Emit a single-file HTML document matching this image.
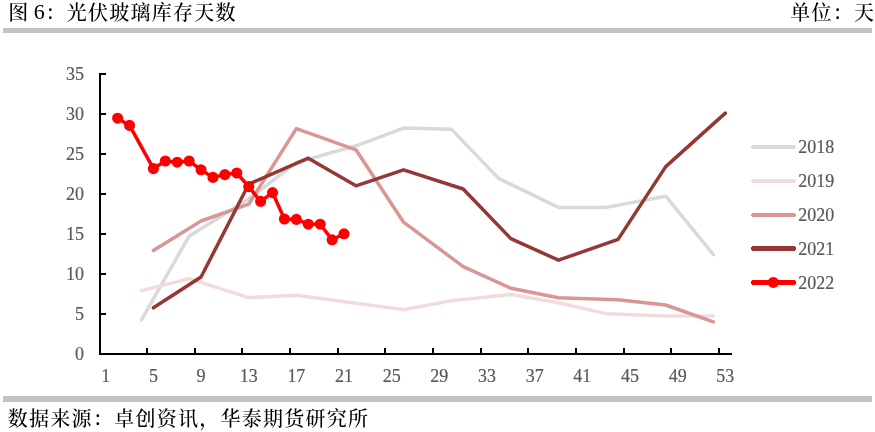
<!DOCTYPE html>
<html lang="zh-CN">
<head>
<meta charset="utf-8">
<title>图 6: 光伏玻璃库存天数</title>
<style>
html,body{margin:0;padding:0;background:#fff;}
body{width:875px;height:432px;position:relative;overflow:hidden;
  font-family:"Liberation Serif","Noto Serif CJK SC",serif;color:#000;}
.bar{position:absolute;left:3px;width:869px;height:5px;background:#c3c3c3;}
.cap{position:absolute;font-size:20px;line-height:24px;white-space:nowrap;letter-spacing:1.27px;word-spacing:-1.6px;font-weight:500;}
svg{position:absolute;left:0;top:0;}
.n{font-size:22px;line-height:0;position:relative;top:-0.6px;margin:0 -0.5px;}
.t{font-family:"Liberation Serif",serif;font-size:18.0px;fill:#595959;stroke:#595959;stroke-width:0.2px;}
</style>
</head>
<body>
<div class="cap" id="title" style="left:8.2px;top:0.8px;">图 <span class="n">6</span>：光伏玻璃库存天数</div>
<div class="cap" id="unit" style="right:-0.3px;top:0.8px;">单位：天</div>
<div class="bar" style="top:28px;"></div>
<svg width="875" height="432" viewBox="0 0 875 432">
<polyline points="141.47,319.80 189.13,236.20 248.71,199.00 296.37,162.60 355.94,145.80 403.60,128.04 451.26,129.16 498.92,178.60 558.50,207.40 606.16,207.40 665.73,196.20 713.39,254.60" fill="none" stroke="#d9d9d9" stroke-width="3.5" stroke-linecap="round" stroke-linejoin="round"/>
<polyline points="141.47,290.60 189.13,278.60 248.71,297.64 296.37,295.24 355.94,303.16 403.60,309.64 451.26,300.84 510.84,294.44 558.50,302.76 606.16,313.64 665.73,316.04 713.39,316.04" fill="none" stroke="#f2dcdb" stroke-width="3.5" stroke-linecap="round" stroke-linejoin="round"/>
<polyline points="153.39,250.60 201.05,221.00 248.71,204.20 296.37,128.60 355.94,149.80 403.60,222.20 463.18,266.60 510.84,288.20 558.50,297.80 618.07,299.80 665.73,305.00 713.39,321.80" fill="none" stroke="#d99694" stroke-width="3.5" stroke-linecap="round" stroke-linejoin="round"/>
<polyline points="153.39,307.80 201.05,277.00 248.71,184.20 308.28,158.20 355.94,185.80 403.60,169.80 463.18,189.00 510.84,238.60 558.50,260.20 618.07,239.40 665.73,166.60 725.31,113.16" fill="none" stroke="#953735" stroke-width="3.5" stroke-linecap="round" stroke-linejoin="round"/>
<polyline points="117.64,118.20 129.56,125.40 153.39,168.60 165.30,161.00 177.22,162.20 189.13,161.00 201.05,169.80 212.96,177.40 224.88,174.60 236.79,173.00 248.71,186.60 260.62,201.40 272.54,192.60 284.45,219.00 296.37,219.40 308.28,224.20 320.20,224.20 332.11,239.80 344.03,233.80" fill="none" stroke="#ff0000" stroke-width="3.5" stroke-linecap="round" stroke-linejoin="round"/>
<circle cx="117.64" cy="118.20" r="5.55" fill="#ff0000"/>
<circle cx="129.56" cy="125.40" r="5.55" fill="#ff0000"/>
<circle cx="153.39" cy="168.60" r="5.55" fill="#ff0000"/>
<circle cx="165.30" cy="161.00" r="5.55" fill="#ff0000"/>
<circle cx="177.22" cy="162.20" r="5.55" fill="#ff0000"/>
<circle cx="189.13" cy="161.00" r="5.55" fill="#ff0000"/>
<circle cx="201.05" cy="169.80" r="5.55" fill="#ff0000"/>
<circle cx="212.96" cy="177.40" r="5.55" fill="#ff0000"/>
<circle cx="224.88" cy="174.60" r="5.55" fill="#ff0000"/>
<circle cx="236.79" cy="173.00" r="5.55" fill="#ff0000"/>
<circle cx="248.71" cy="186.60" r="5.55" fill="#ff0000"/>
<circle cx="260.62" cy="201.40" r="5.55" fill="#ff0000"/>
<circle cx="272.54" cy="192.60" r="5.55" fill="#ff0000"/>
<circle cx="284.45" cy="219.00" r="5.55" fill="#ff0000"/>
<circle cx="296.37" cy="219.40" r="5.55" fill="#ff0000"/>
<circle cx="308.28" cy="224.20" r="5.55" fill="#ff0000"/>
<circle cx="320.20" cy="224.20" r="5.55" fill="#ff0000"/>
<circle cx="332.11" cy="239.80" r="5.55" fill="#ff0000"/>
<circle cx="344.03" cy="233.80" r="5.55" fill="#ff0000"/>
<rect x="99" y="73" width="2" height="282" fill="#000000"/>
<rect x="99" y="353" width="633" height="2" fill="#000000"/>
<rect x="101" y="353" width="5" height="2" fill="#000000"/>
<rect x="101" y="313" width="5" height="2" fill="#000000"/>
<rect x="101" y="273" width="5" height="2" fill="#000000"/>
<rect x="101" y="233" width="5" height="2" fill="#000000"/>
<rect x="101" y="193" width="5" height="2" fill="#000000"/>
<rect x="101" y="153" width="5" height="2" fill="#000000"/>
<rect x="101" y="113" width="5" height="2" fill="#000000"/>
<rect x="101" y="73" width="5" height="2" fill="#000000"/>
<rect x="146" y="348" width="2" height="5" fill="#000000"/>
<rect x="194" y="348" width="2" height="5" fill="#000000"/>
<rect x="241" y="348" width="2" height="5" fill="#000000"/>
<rect x="289" y="348" width="2" height="5" fill="#000000"/>
<rect x="337" y="348" width="2" height="5" fill="#000000"/>
<rect x="384" y="348" width="2" height="5" fill="#000000"/>
<rect x="432" y="348" width="2" height="5" fill="#000000"/>
<rect x="480" y="348" width="2" height="5" fill="#000000"/>
<rect x="527" y="348" width="2" height="5" fill="#000000"/>
<rect x="575" y="348" width="2" height="5" fill="#000000"/>
<rect x="623" y="348" width="2" height="5" fill="#000000"/>
<rect x="670" y="348" width="2" height="5" fill="#000000"/>
<rect x="718" y="348" width="2" height="5" fill="#000000"/>
<text transform="translate(84.10,360.00) scale(1,1.05)" text-anchor="end" class="t">0</text>
<text transform="translate(84.10,320.00) scale(1,1.05)" text-anchor="end" class="t">5</text>
<text transform="translate(84.10,280.00) scale(1,1.05)" text-anchor="end" class="t">10</text>
<text transform="translate(84.10,240.00) scale(1,1.05)" text-anchor="end" class="t">15</text>
<text transform="translate(84.10,200.00) scale(1,1.05)" text-anchor="end" class="t">20</text>
<text transform="translate(84.10,160.00) scale(1,1.05)" text-anchor="end" class="t">25</text>
<text transform="translate(84.10,120.00) scale(1,1.05)" text-anchor="end" class="t">30</text>
<text transform="translate(84.10,80.00) scale(1,1.05)" text-anchor="end" class="t">35</text>
<text transform="translate(105.73,382.20) scale(1,1.05)" text-anchor="middle" class="t">1</text>
<text transform="translate(153.39,382.20) scale(1,1.05)" text-anchor="middle" class="t">5</text>
<text transform="translate(201.05,382.20) scale(1,1.05)" text-anchor="middle" class="t">9</text>
<text transform="translate(248.71,382.20) scale(1,1.05)" text-anchor="middle" class="t">13</text>
<text transform="translate(296.37,382.20) scale(1,1.05)" text-anchor="middle" class="t">17</text>
<text transform="translate(344.03,382.20) scale(1,1.05)" text-anchor="middle" class="t">21</text>
<text transform="translate(391.69,382.20) scale(1,1.05)" text-anchor="middle" class="t">25</text>
<text transform="translate(439.35,382.20) scale(1,1.05)" text-anchor="middle" class="t">29</text>
<text transform="translate(487.01,382.20) scale(1,1.05)" text-anchor="middle" class="t">33</text>
<text transform="translate(534.67,382.20) scale(1,1.05)" text-anchor="middle" class="t">37</text>
<text transform="translate(582.33,382.20) scale(1,1.05)" text-anchor="middle" class="t">41</text>
<text transform="translate(629.99,382.20) scale(1,1.05)" text-anchor="middle" class="t">45</text>
<text transform="translate(677.65,382.20) scale(1,1.05)" text-anchor="middle" class="t">49</text>
<text transform="translate(725.31,382.20) scale(1,1.05)" text-anchor="middle" class="t">53</text>
<path d="M752,145 H795 V146 H796 V148 H795 V149 H752 V148 H751 V146 H752 Z" fill="#d9d9d9" shape-rendering="crispEdges"/>
<text transform="translate(798.20,152.65) scale(1,1.05)" text-anchor="start" class="t">2018</text>
<path d="M752,179 H795 V180 H796 V182 H795 V183 H752 V182 H751 V180 H752 Z" fill="#f2dcdb" shape-rendering="crispEdges"/>
<text transform="translate(798.20,186.65) scale(1,1.05)" text-anchor="start" class="t">2019</text>
<path d="M752,213 H795 V214 H796 V216 H795 V217 H752 V216 H751 V214 H752 Z" fill="#d99694" shape-rendering="crispEdges"/>
<text transform="translate(798.20,220.65) scale(1,1.05)" text-anchor="start" class="t">2020</text>
<path d="M752,246 H795 V247 H796 V250 H795 V251 H752 V250 H751 V247 H752 Z" fill="#953735" shape-rendering="crispEdges"/>
<text transform="translate(798.20,254.65) scale(1,1.05)" text-anchor="start" class="t">2021</text>
<path d="M752,280 H795 V281 H796 V284 H795 V285 H752 V284 H751 V281 H752 Z" fill="#ff0000" shape-rendering="crispEdges"/>
<circle cx="773.3" cy="282.45" r="5.55" fill="#ff0000"/>
<text transform="translate(798.20,288.65) scale(1,1.05)" text-anchor="start" class="t">2022</text>
</svg>
<div class="bar" style="top:396px;height:6px;"></div>
<div class="cap" id="src" style="left:7.8px;top:406.6px;">数据来源：卓创资讯，华泰期货研究所</div>
</body>
</html>
